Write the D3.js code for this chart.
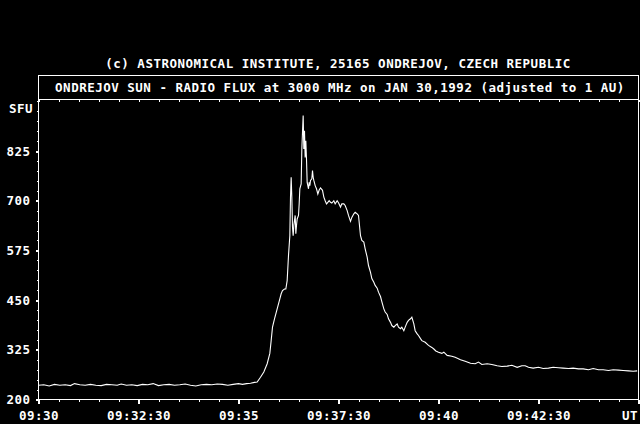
<!DOCTYPE html>
<html>
<head>
<meta charset="utf-8">
<script src="https://cdn.jsdelivr.net/npm/d3@7"></script>
<style>
  html, body { margin: 0; padding: 0; background: #000; }
  svg { display: block; }
  text { font-family: "DejaVu Sans Mono", "Liberation Mono", monospace; font-weight: bold; font-size: 12.5px; letter-spacing: 0.5px; fill: #fff; }
</style>
</head>
<body>
<svg id="chart" width="640" height="424"></svg>
<script>
// ---- data (seconds after 09:30:00 UT, flux in SFU) ----
const topTitle = "(c) ASTRONOMICAL INSTITUTE, 25165 ONDREJOV, CZECH REPUBLIC";
const boxTitle = "ONDREJOV SUN - RADIO FLUX at 3000 MHz on JAN 30,1992 (adjusted to 1 AU)";
const yUnit = "SFU";
const xUnit = "UT";
const xMajorSecs = [0, 150, 300, 450, 600, 750, 900];
const xTickLabels = ["09:30", "09:32:30", "09:35", "09:37:30", "09:40", "09:42:30", ""];
const yTicks = [200, 325, 450, 575, 700, 825];
const flux = [
  [0,236],[8,237],[16,234],[24,238],[32,236],[40,237],[48,235],[54,240],[62,237],[70,236],
  [78,238],[86,236],[94,235],[102,238],[110,237],[118,236],[124,239],[132,236],[140,237],[148,235],
  [156,238],[164,237],[172,240],[180,235],[188,237],[196,238],[204,236],[212,237],[220,239],[228,236],
  [236,234],[244,237],[252,238],[260,237],[268,239],[276,238],[284,236],[292,238],[300,240],[306,238],
  [312,240],[318,241],[324,243],[328,244],[333,256],[338,269],[343,290],[347,316],[349,348],[351,382],
  [354,403],[358,428],[362,453],[364,466],[366,474],[369,478],[371,478],[373,499],[375,562],[377,612],
  [378,709],[379,759],[380,709],[381,633],[382,612],[383,638],[385,663],[386,617],[387,638],[388,654],
  [390,663],[391,692],[392,730],[394,742],[395,830],[397,914],[398,830],[399,876],[400,809],[401,851],
  [402,805],[403,746],[405,730],[406,746],[407,738],[408,751],[410,755],[411,776],[412,759],[413,751],
  [415,738],[417,730],[419,717],[421,727],[423,732],[426,726],[428,709],[430,700],[432,692],[434,696],
  [436,700],[438,696],[440,694],[443,700],[445,692],[448,700],[450,695],[453,684],[455,692],[458,692],
  [460,688],[463,675],[465,663],[468,648],[470,658],[473,667],[475,671],[478,667],[480,663],[483,612],
  [485,600],[488,596],[490,579],[493,558],[495,537],[498,520],[500,504],[503,495],[505,487],[508,480],
  [510,470],[513,459],[515,446],[518,428],[520,420],[523,414],[525,403],[528,394],[530,386],[533,382],
  [535,386],[538,390],[540,382],[543,378],[545,382],[548,373],[550,382],[553,394],[555,399],[558,403],
  [560,407],[563,390],[565,373],[568,365],[570,361],[573,353],[575,348],[580,344],[585,336],[590,331],
  [593,327],[596,322],[600,319],[605,316],[608,319],[613,311],[620,309],[625,306],[633,300],[640,296],
  [648,291],[655,290],[660,294],[665,288],[673,290],[680,288],[688,285],[695,283],[703,284],[710,286],
  [718,281],[725,285],[730,285],[735,281],[742,279],[750,281],[757,278],[765,279],[772,281],[780,280],
  [787,279],[795,278],[802,279],[810,277],[817,277],[825,275],[832,278],[840,275],[847,275],[855,273],
  [862,275],[870,274],[877,273],[885,272],[892,271],[898,272]
];

// ---- drawing ----
const svg = d3.select("#chart");
svg.append("rect").attr("width", 640).attr("height", 424).attr("fill", "#000");

const x = d3.scaleLinear().domain([0, 900]).range([38.5, 638.5]);
const y = d3.scaleLinear().domain([200, 950]).range([399.5, 101.3]);

// titles
svg.append("text").attr("x", 338).attr("y", 68).attr("text-anchor", "middle").text(topTitle);
svg.append("rect").attr("x", 38.5).attr("y", 75.5).attr("width", 600).attr("height", 24)
  .attr("fill", "none").attr("stroke", "#fff").attr("shape-rendering", "crispEdges");
svg.append("text").attr("x", 340).attr("y", 92).attr("text-anchor", "middle").text(boxTitle);

// plot frame
svg.append("rect").attr("x", 38.5).attr("y", 99.5).attr("width", 600).attr("height", 300)
  .attr("fill", "none").attr("stroke", "#fff").attr("shape-rendering", "crispEdges");

function styleAxis(g, w) {
  g.select(".domain").remove();
  g.selectAll(".tick line").attr("stroke", "#fff").attr("stroke-width", w).attr("shape-rendering", "crispEdges");
}

const minorSecs = d3.range(0, 901, 30);
// bottom minor ticks
svg.append("g").attr("transform", "translate(0,399.5)")
  .call(d3.axisBottom(x).tickValues(minorSecs).tickSize(2).tickFormat(""))
  .call(g => styleAxis(g, 1));
// bottom major ticks and labels
svg.append("g").attr("transform", "translate(0,399.5)")
  .call(d3.axisBottom(x).tickValues(xMajorSecs).tickSize(4).tickFormat((d, i) => xTickLabels[i]))
  .call(g => {
    styleAxis(g, 2);
    g.selectAll(".tick text").attr("y", 20.5).attr("dy", null).attr("fill", "#fff")
      .style("font-family", null).style("font-size", null).attr("font-family", null).attr("font-size", null);
  });
// top minor ticks (inward)
svg.append("g").attr("transform", "translate(0,99.5)")
  .call(d3.axisBottom(x).tickValues(minorSecs).tickSize(2).tickFormat(""))
  .call(g => styleAxis(g, 1));

// left minor ticks
svg.append("g").attr("transform", "translate(38.5,0)")
  .call(d3.axisLeft(y).tickValues(d3.range(200, 951, 25)).tickSize(1.5).tickFormat(""))
  .call(g => styleAxis(g, 1));
// left major ticks + labels
svg.append("g").attr("transform", "translate(38.5,0)")
  .call(d3.axisLeft(y).tickValues(yTicks).tickSize(3).tickPadding(5).tickFormat(d3.format("d")))
  .call(g => {
    styleAxis(g, 2);
    g.selectAll(".tick text").attr("fill", "#fff").attr("font-family", null).attr("font-size", null);
  });

// unit labels
svg.append("text").attr("x", 33).attr("y", 113).attr("text-anchor", "end").text(yUnit);
svg.append("text").attr("x", 638).attr("y", 420).attr("text-anchor", "end").text(xUnit);

// flux trace
const line = d3.line().x(d => x(d[0])).y(d => y(d[1]));
svg.append("path").datum(flux).attr("d", line)
  .attr("fill", "none").attr("stroke", "#fff").attr("stroke-width", 1.1)
  .attr("stroke-linejoin", "miter");
</script>
</body>
</html>
